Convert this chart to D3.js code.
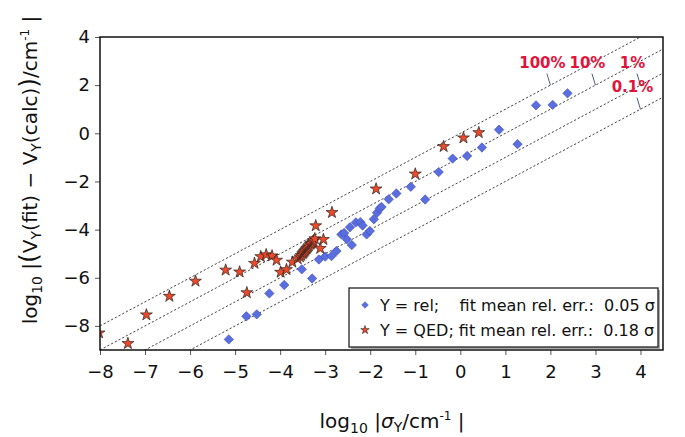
<!DOCTYPE html>
<html>
<head>
<meta charset="utf-8">
<script src="https://cdn.jsdelivr.net/npm/d3@7"></script>
<style>
  body { margin: 0; background: #fff; }
  text { font-family: "DejaVu Sans", sans-serif; fill: #111; }
</style>
</head>
<body>
<svg id="chart" width="685" height="437"></svg>
<script>
// log10 |sigma_Y / cm^-1|  vs  log10 |V_Y(fit) - V_Y(calc)| for the two fits
const relSigma = [-5.14, -4.75, -4.52, -4.24, -3.91, -3.52, -3.29, -3.14, -3.00, -2.86,
                  -2.75, -2.64, -2.58, -2.52, -2.45, -2.41, -2.32, -2.22, -2.17, -2.08,
                  -2.01, -1.92, -1.85, -1.79, -1.75, -1.59, -1.42, -1.10, -0.78, -0.48,
                  -0.17, 0.15, 0.48, 0.86, 1.27, 1.68, 2.05, 2.38];
const relDiff  = [-8.56, -7.60, -7.52, -6.65, -6.30, -5.65, -6.03, -5.24, -5.12, -5.10,
                  -4.89, -4.20, -4.14, -4.40, -3.90, -4.64, -3.70, -3.69, -3.83, -4.20,
                  -4.06, -3.57, -3.30, -3.12, -3.06, -2.74, -2.50, -2.22, -2.75, -1.61,
                  -1.05, -0.94, -0.59, 0.15, -0.45, 1.16, 1.18, 1.66];

const qedSigma = [-8.02, -7.38, -6.97, -6.46, -5.88, -5.21, -4.90, -4.74, -4.57, -4.43,
                  -4.31, -4.18, -4.08, -3.99, -3.86, -3.73, -3.61, -3.56, -3.53, -3.50,
                  -3.48, -3.46, -3.44, -3.42, -3.40, -3.38, -3.36, -3.33, -3.31, -3.28,
                  -3.26, -3.23, -3.21, -3.11, -3.04, -2.85, -1.87, -1.00, -0.37, 0.07, 0.41];
const qedDiff  = [-8.29, -8.73, -7.54, -6.77, -6.14, -5.68, -5.76, -6.62, -5.40, -5.12,
                  -5.04, -5.09, -5.27, -5.77, -5.66, -5.35, -5.21, -5.13, -5.07, -5.00,
                  -4.96, -4.91, -4.86, -4.81, -4.77, -4.72, -4.67, -4.61, -4.57, -4.51,
                  -4.46, -4.38, -3.84, -4.78, -4.41, -3.29, -2.31, -1.69, -0.55, -0.19, 0.03];

const xTicks = [-8, -7, -6, -5, -4, -3, -2, -1, 0, 1, 2, 3, 4];
const yTicks = [-8, -6, -4, -2, 0, 2, 4];

// reference lines: relative deviation = 100 %, 10 %, 1 %, 0.1 % of sigma
const refLabels  = ["100%", "10%", "1%", "0.1%"];
const refOffsets = [0, -1, -2, -3];
const refAnchorX = [2, 3, 4, 4];

const legendLabels = ["Y = rel;    fit mean rel. err.:  0.05 \u03c3",
                      "Y = QED; fit mean rel. err.:  0.18 \u03c3"];

const svg = d3.select("#chart");
const pLeft = 100, pRight = 663, pTop = 37, pBottom = 350;

const x = d3.scaleLinear().domain([-8, 4.5]).range([pLeft, pRight]);
const y = d3.scaleLinear().domain([-9, 4]).range([pBottom, pTop]);

svg.append("defs").append("clipPath").attr("id", "plotClip")
  .append("rect").attr("x", pLeft).attr("y", pTop)
  .attr("width", pRight - pLeft).attr("height", pBottom - pTop);

const plot = svg.append("g").attr("clip-path", "url(#plotClip)");

// dotted reference lines y = x + c
const xd = x.domain();
refOffsets.forEach(c => {
  plot.append("line")
    .attr("x1", x(xd[0])).attr("y1", y(xd[0] + c))
    .attr("x2", x(xd[1])).attr("y2", y(xd[1] + c))
    .attr("stroke", "#444").attr("stroke-width", 1)
    .attr("stroke-dasharray", "2.2,2");
});

// markers
const diamond = d3.symbol().type(d3.symbolSquare).size(44);
const star = d3.symbol().type(d3.symbolStar).size(44);

plot.selectAll("path.rel").data(relSigma.map((s, i) => [s, relDiff[i]]))
  .join("path").attr("class", "rel")
  .attr("d", diamond)
  .attr("transform", d => `translate(${x(d[0])},${y(d[1])}) rotate(45)`)
  .attr("fill", "#5b6ee0").attr("stroke", "#3d4db8").attr("stroke-width", 0.6);

plot.selectAll("path.qed").data(qedSigma.map((s, i) => [s, qedDiff[i]]))
  .join("path").attr("class", "qed")
  .attr("d", star)
  .attr("transform", d => `translate(${x(d[0])},${y(d[1])})`)
  .attr("fill", "#ec4a2a").attr("stroke", "#2a1f1c").attr("stroke-width", 0.7);

// percentage annotations with short leader ticks
refLabels.forEach((t, i) => {
  const ax = refAnchorX[i], ay = ax + refOffsets[i];
  const px = x(ax), py = y(ay);
  svg.append("line")
    .attr("x1", px).attr("y1", py).attr("x2", px - 3.5).attr("y2", py - 11.5)
    .attr("stroke", "#4e5e80").attr("stroke-width", 1);
  svg.append("text")
    .attr("x", px - 8).attr("y", py - 17)
    .attr("text-anchor", "middle")
    .style("font-size", "15px").style("font-weight", "bold")
    .style("fill", "#e3123a")
    .text(t);
});

// axes
const xAxis = svg.append("g").attr("transform", `translate(0,${pBottom})`)
  .call(d3.axisBottom(x).tickValues(xTicks).tickSize(5).tickPadding(10).tickSizeOuter(0));
const yAxis = svg.append("g").attr("transform", `translate(${pLeft},0)`)
  .call(d3.axisLeft(y).tickValues(yTicks).tickSize(5).tickPadding(5).tickSizeOuter(0));
[xAxis, yAxis].forEach(g => {
  g.select(".domain").remove();
  g.selectAll(".tick line").attr("stroke", "#555");
  g.selectAll(".tick text").style("font-size", "18px").style("font-family", "DejaVu Sans").attr("fill", "#111");
});

// frame
svg.append("rect").attr("x", pLeft).attr("y", pTop)
  .attr("width", pRight - pLeft).attr("height", pBottom - pTop)
  .attr("fill", "none").attr("stroke", "#111").attr("stroke-width", 1.5);

// legend
const lg = svg.append("g");
lg.append("rect").attr("x", 351).attr("y", 290).attr("width", 309).attr("height", 59)
  .attr("fill", "#aaa");
lg.append("rect").attr("x", 349).attr("y", 288).attr("width", 309).attr("height", 59)
  .attr("fill", "#fff").attr("stroke", "#222").attr("stroke-width", 1.3);
const legendRows = [305, 330];
lg.append("path").attr("d", d3.symbol().type(d3.symbolSquare).size(22))
  .attr("transform", `translate(365,${legendRows[0]}) rotate(45)`)
  .attr("fill", "#5b6ee0").attr("stroke", "#3d4db8").attr("stroke-width", 0.5);
lg.append("path").attr("d", d3.symbol().type(d3.symbolStar).size(22))
  .attr("transform", `translate(365,${legendRows[1]})`)
  .attr("fill", "#ec4a2a").attr("stroke", "#2a1f1c").attr("stroke-width", 0.6);
legendLabels.forEach((t, i) => {
  lg.append("text").attr("x", 380).attr("y", legendRows[i] + 6)
    .style("font-size", "16px").style("white-space", "pre").attr("xml:space", "preserve")
    .text(t);
});

// x axis title: log10 |sigma_Y / cm^-1|
const xt = svg.append("text").attr("x", 392).attr("y", 428)
  .attr("text-anchor", "middle").style("font-size", "20px").style("white-space", "pre");
xt.append("tspan").text("log");
xt.append("tspan").attr("dy", 5).style("font-size", "14px").text("10");
xt.append("tspan").attr("dy", -5).text(" |");
xt.append("tspan").style("font-style", "italic").text("\u03c3");
xt.append("tspan").attr("dy", 4).style("font-size", "14px").text("Y");
xt.append("tspan").attr("dy", -4).text("/cm");
xt.append("tspan").attr("dy", -8).style("font-size", "12px").text("-1");
xt.append("tspan").attr("dy", 8).text(" |");

// y axis title: log10 |(V_Y(fit) - V_Y(calc))/cm^-1|
const yt = svg.append("text").attr("transform", "translate(37,170) rotate(-90)")
  .attr("text-anchor", "middle").style("font-size", "20px").style("white-space", "pre");
yt.append("tspan").text("log");
yt.append("tspan").attr("dy", 5).style("font-size", "14px").text("10");
yt.append("tspan").attr("dy", -5).text(" |");
yt.append("tspan").style("font-size", "25px").text("(");
yt.append("tspan").text("V");
yt.append("tspan").attr("dy", 4).style("font-size", "14px").text("Y");
yt.append("tspan").attr("dy", -4).text("(fit) \u2212 V");
yt.append("tspan").attr("dy", 4).style("font-size", "14px").text("Y");
yt.append("tspan").attr("dy", -4).text("(calc)");
yt.append("tspan").style("font-size", "25px").text(")");
yt.append("tspan").text("/cm");
yt.append("tspan").attr("dy", -8).style("font-size", "12px").text("-1");
yt.append("tspan").attr("dy", 8).text(" |");
</script>
</body>
</html>
